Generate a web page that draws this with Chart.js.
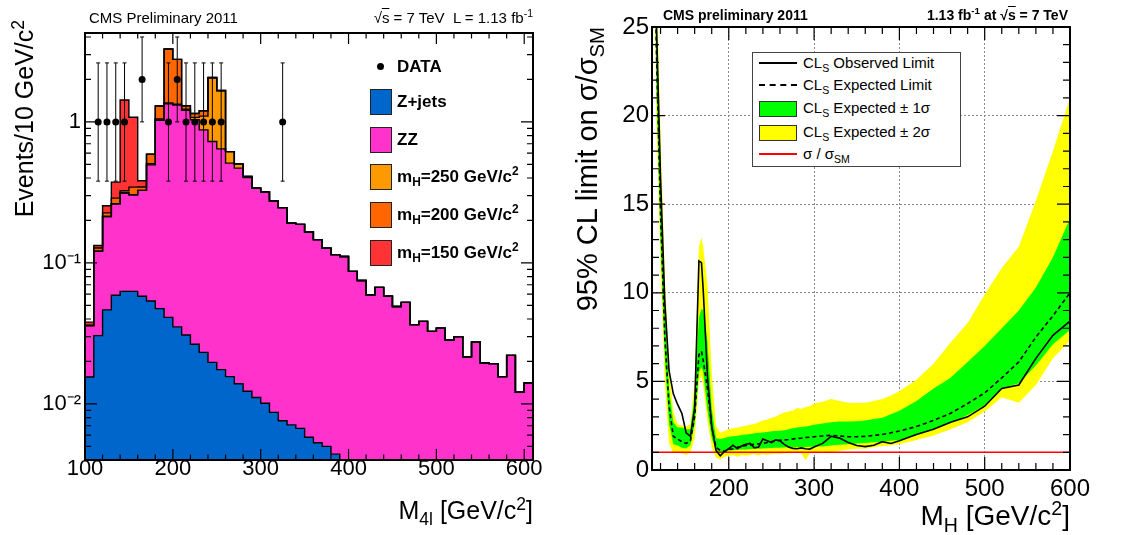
<!DOCTYPE html>
<html lang="en">
<head>
<meta charset="utf-8">
<title>CMS preliminary 2011 - H to ZZ to 4l</title>
<script src="https://cdn.jsdelivr.net/npm/chart.js@4.4.1/dist/chart.umd.min.js"></script>
<style>
    html, body { margin: 0; padding: 0; background: #ffffff; }
    body {
        position: relative;
        width: 1131px;
        height: 535px;
        overflow: hidden;
        font-family: 'Liberation Sans', Arial, Helvetica, sans-serif;
        color: #000000;
    }
    canvas { position: absolute; top: 0; }
    #mass-chart { left: 0; }
    #limit-chart { left: 570px; }
    .label { position: absolute; white-space: nowrap; }
    .label sub, .label sup { font-size: 70%; line-height: 0; }
    .overline { text-decoration: overline; }
    .y-title { transform-origin: 0 0; transform: rotate(-90deg); text-align: right; }
    .swatch { position: absolute; box-sizing: border-box; border: 1px solid #222; }
    .legend-left { left: 397px; font-size: 17px; font-weight: bold; line-height: 22px; }
    .legend-right { left: 50px; font-size: 15px; line-height: 18px; }
</style>
</head>
<body>
<canvas id="mass-chart" width="560" height="535"></canvas>
<canvas id="limit-chart" width="561" height="535"></canvas>

<!-- left panel: texts and legend -->
<div class="label" style="left:89px; top:8px; font-size:15px; line-height:19px;">CMS Preliminary 2011</div>
<div class="label" style="right:598px; top:8px; font-size:15px; line-height:19px;">&radic;<span class="overline">s</span> = 7 TeV&nbsp; L = 1.13 fb<sup>-1</sup></div>
<div class="label y-title" style="left:9px; top:420px; width:400px; font-size:25px; line-height:30px;">Events/10 GeV/c<sup>2</sup></div>
<div class="label" style="right:598px; top:495px; font-size:25px; line-height:30px;">M<sub>4l</sub> [GeV/c<sup>2</sup>]</div>

<div class="label" style="left:377px; top:63px; width:7px; height:7px; border-radius:50%; background:#000;"></div>
<div class="label legend-left" style="top:56px;">DATA</div>
<div class="swatch" style="left:370px; top:89px; width:22px; height:26px; background:#0066cc;"></div>
<div class="label legend-left" style="top:91px;">Z+jets</div>
<div class="swatch" style="left:370px; top:127px; width:22px; height:26px; background:#ff33cc;"></div>
<div class="label legend-left" style="top:129px;">ZZ</div>
<div class="swatch" style="left:370px; top:164px; width:22px; height:26px; background:#ff9900;"></div>
<div class="label legend-left" style="top:166px;">m<sub>H</sub>=250 GeV/c<sup>2</sup></div>
<div class="swatch" style="left:370px; top:202px; width:22px; height:26px; background:#ff6600;"></div>
<div class="label legend-left" style="top:204px;">m<sub>H</sub>=200 GeV/c<sup>2</sup></div>
<div class="swatch" style="left:370px; top:240px; width:22px; height:26px; background:#ff3333;"></div>
<div class="label legend-left" style="top:242px;">m<sub>H</sub>=150 GeV/c<sup>2</sup></div>

<!-- right panel: texts and legend -->
<div class="label" style="left:663px; top:6px; font-size:14px; font-weight:bold; line-height:18px;">CMS preliminary 2011</div>
<div class="label" style="right:63px; top:6px; font-size:14px; font-weight:bold; line-height:18px;">1.13 fb<sup>-1</sup> at &radic;<span class="overline">s</span> = 7 TeV</div>
<div class="label y-title" style="left:570px; top:467px; width:440px; font-size:29px; line-height:34px;">95% CL limit on &sigma;/&sigma;<sub>SM</sub></div>
<div class="label" style="right:61px; top:500px; font-size:28px; line-height:32px;">M<sub>H</sub> [GeV/c<sup>2</sup>]</div>

<div style="position:absolute; left:752px; top:52px; width:209px; height:115px; box-sizing:border-box; border:1px solid #444; background:#fff;">
    <div style="position:absolute; left:6px; top:9px; width:38px; border-top:2px solid #000;"></div>
    <div class="label legend-right" style="top:1px;">CL<sub>S</sub> Observed Limit</div>
    <div style="position:absolute; left:6px; top:31px; width:38px; border-top:2px dashed #000;"></div>
    <div class="label legend-right" style="top:23px;">CL<sub>S</sub> Expected Limit</div>
    <div class="swatch" style="left:6px; top:48px; width:38px; height:16px; background:#00ff00; border-color:#333;"></div>
    <div class="label legend-right" style="top:46px;">CL<sub>S</sub> Expected &plusmn; 1&sigma;</div>
    <div class="swatch" style="left:6px; top:72px; width:38px; height:16px; background:#ffff00; border-color:#333;"></div>
    <div class="label legend-right" style="top:70px;">CL<sub>S</sub> Expected &plusmn; 2&sigma;</div>
    <div style="position:absolute; left:6px; top:100px; width:38px; border-top:2px solid #ff0000;"></div>
    <div class="label legend-right" style="top:92px;">&sigma; / &sigma;<sub>SM</sub></div>
</div>

<script>
// ---------- left panel: M4l distribution, events per 10 GeV/c2 bin ----------
const binLowEdge = [
    100, 110, 120, 130, 140, 150, 160, 170, 180, 190,
    200, 210, 220, 230, 240, 250, 260, 270, 280, 290,
    300, 310, 320, 330, 340, 350, 360, 370, 380, 390,
    400, 410, 420, 430, 440, 450, 460, 470, 480, 490,
    500, 510, 520, 530, 540, 550, 560, 570, 580, 590,
    600
];
const binUpperEnd = 610;
const massTickValues = [100, 200, 300, 400, 500, 600];

const zJets = [
    0.0155, 0.0305, 0.0464, 0.0589, 0.0628, 0.0628, 0.058, 0.0537, 0.0474, 0.0411,
    0.0352, 0.0308, 0.0265, 0.0232, 0.0197, 0.0175, 0.0156, 0.0139, 0.0123, 0.0111,
    0.0101, 0.0087, 0.0076, 0.0071, 0.0067, 0.0058, 0.0053, 0.0050, 0.0044, 0,
    0, 0, 0, 0, 0, 0, 0, 0, 0, 0,
    0, 0, 0, 0, 0, 0, 0, 0, 0, 0,
    0
];
const zz = [
    0.0205, 0.0905, 0.167, 0.204, 0.250, 0.241, 0.269, 0.442, 0.98, 1.30,
    1.28, 1.18, 1.01, 0.855, 0.706, 0.626, 0.494, 0.456, 0.391, 0.328,
    0.308, 0.267, 0.239, 0.184, 0.181, 0.160, 0.141, 0.122, 0.110, 0.111,
    0.087, 0.075, 0.0595, 0.067, 0.058, 0.049, 0.0525, 0.0365, 0.0385, 0.0327,
    0.0344, 0.0283, 0.030, 0.0216, 0.0274, 0.0195, 0.0193, 0.0156, 0.0221, 0.0121,
    0.0141
];
const higgs250 = [
    0, 0, 0, 0, 0, 0, 0, 0.009, 0.02, 0.02,
    0.02, 0.02, 0.04, 0.22, 1.32, 1.02, 0.106, 0.034, 0.007, 0,
    0, 0, 0, 0, 0, 0, 0, 0, 0, 0,
    0, 0, 0, 0, 0, 0, 0, 0, 0, 0,
    0, 0, 0, 0, 0, 0, 0, 0, 0, 0,
    0
];
const higgs200 = [
    0, 0.0066, 0.013, 0.025, 0.012, 0.041, 0.018, 0.085, 0.25, 1.93,
    1.44, 0.07, 0.07, 0.10, 0.02, 0.006, 0, 0, 0, 0,
    0, 0, 0, 0, 0, 0, 0, 0, 0, 0,
    0, 0, 0, 0, 0, 0, 0, 0, 0, 0,
    0, 0, 0, 0, 0, 0, 0, 0, 0, 0,
    0
];
const higgs150 = [
    0.002, 0.0054, 0.028, 0.086, 1.105, 0.735, 0.037, 0, 0, 0,
    0, 0, 0, 0, 0, 0, 0, 0, 0, 0,
    0, 0, 0, 0, 0, 0, 0, 0, 0, 0,
    0, 0, 0, 0, 0, 0, 0, 0, 0, 0,
    0, 0, 0, 0, 0, 0, 0, 0, 0, 0,
    0
];

// observed events (bin centres) and their error bars
const dataMass = [115, 125, 135, 145, 165, 195, 205, 215, 225, 235, 245, 255, 325];
const dataEvents = [1, 1, 1, 1, 2, 1, 2, 1, 1, 1, 1, 1, 1];
const dataErrLow = [0.38, 0.38, 0.38, 0.38, 1.0, 0.38, 1.0, 0.38, 0.38, 0.38, 0.38, 0.38, 0.38];
const dataErrHigh = [2.62, 2.62, 2.62, 2.62, 4.0, 2.62, 4.0, 2.62, 2.62, 2.62, 2.62, 2.62, 2.62];

// ---------- right panel: 95% CL limit on sigma/sigma_SM ----------
const limitMass = [
    110, 115, 120, 125, 130, 135, 140, 145, 150, 155,
    160, 165, 168, 170, 175, 180, 185, 190, 195, 200,
    205, 210, 215, 220, 225, 230, 235, 240, 245, 250,
    255, 260, 265, 270, 275, 280, 285, 290, 295, 300,
    310, 320, 330, 340, 350, 360, 370, 380, 390, 400,
    420, 440, 460, 480, 500, 520, 540, 560, 580, 600
];
const limitTickValues = [200, 300, 400, 500, 600];
const observedLimit = [
    45, 25.5, 16.5, 9.5, 5.6, 4.3, 3.7, 3.2, 2.1, 1.9,
    3.5, 11.8, 11.7, 10.2, 5.3, 2.5, 1.1, 0.8, 1.05, 1.2,
    1.4, 1.2, 1.35, 1.45, 1.5, 1.25, 1.3, 1.75, 1.65, 1.55,
    1.7, 1.65, 1.45, 1.3, 1.22, 1.2, 1.25, 1.2, 1.18, 1.3,
    1.5, 1.9, 1.8, 1.55, 1.38, 1.32, 1.4, 1.6, 1.5, 1.65,
    2.0, 2.3, 2.7, 3.0, 3.6, 4.6, 4.8, 6.3, 7.6, 8.4
];
const expectedLimit = [
    45, 24, 14.5, 7.5, 3.6, 1.9, 1.75, 1.6, 1.5, 1.65,
    3.0, 6.5, 6.7, 6.2, 4.6, 2.4, 1.3, 1.1, 1.05, 1.15,
    1.2, 1.28, 1.33, 1.38, 1.42, 1.45, 1.48, 1.5, 1.55, 1.6,
    1.63, 1.68, 1.7, 1.72, 1.75, 1.78, 1.8, 1.83, 1.85, 1.88,
    1.92, 1.96, 1.92, 1.88, 1.88, 1.9, 1.95, 2.0, 2.1, 2.2,
    2.45, 2.8, 3.2, 3.75, 4.35, 5.2, 6.1, 7.5, 8.7, 10.0
];
const oneSigmaUp = [
    48, 27, 17, 9.2, 4.6, 2.7, 2.4, 2.4, 2.3, 2.3,
    4.3, 8.6, 9.1, 9.0, 7.3, 3.5, 1.8, 1.75, 1.8, 1.88,
    1.9, 1.93, 1.97, 2.0, 2.03, 2.07, 2.1, 2.12, 2.15, 2.18,
    2.2, 2.22, 2.25, 2.3, 2.35, 2.4, 2.42, 2.45, 2.5, 2.55,
    2.63, 2.7, 2.73, 2.73, 2.75, 2.8, 2.88, 2.95, 3.15, 3.35,
    3.9, 4.6, 5.2, 6.1, 7.0, 8.0, 9.0, 10.3, 12.0, 14.2
];
const oneSigmaDown = [
    42, 22, 13, 6.3, 2.6, 1.45, 1.38, 1.25, 1.22, 1.4,
    2.6, 5.5, 5.8, 5.5, 3.4, 1.8, 1.1, 0.95, 1.0, 1.1,
    1.12, 1.14, 1.15, 1.16, 1.17, 1.2, 1.2, 1.22, 1.23, 1.24,
    1.25, 1.26, 1.27, 1.28, 1.29, 1.3, 1.3, 1.3, 1.31, 1.32,
    1.33, 1.38, 1.42, 1.46, 1.5, 1.53, 1.57, 1.6, 1.65, 1.7,
    1.97, 2.3, 2.65, 3.1, 3.65, 4.6, 4.9, 5.9, 7.1, 7.9
];
const twoSigmaUp = [
    50, 28.5, 19, 10.8, 5.8, 3.3, 2.6, 2.5, 2.45, 2.6,
    5.0, 12.6, 13.1, 12.6, 10.5, 5.5, 2.5, 2.1, 2.2, 2.3,
    2.35, 2.4, 2.45, 2.5, 2.55, 2.6, 2.7, 2.8, 2.85, 2.95,
    3.0, 3.15, 3.25, 3.3, 3.35, 3.5, 3.45, 3.55, 3.6, 3.75,
    3.85, 4.0, 3.9, 3.8, 3.78, 3.8, 3.9, 4.0, 4.2, 4.45,
    5.1, 6.0, 7.2, 8.3, 9.9, 11.4, 12.6, 15.2, 18.0, 21.0
];
const twoSigmaDown = [
    40, 20, 11.5, 5.0, 1.5, 0.95, 1.0, 0.95, 0.85, 1.0,
    1.8, 5.0, 5.3, 4.8, 2.8, 1.3, 0.7, 0.6, 0.75, 0.8,
    0.85, 0.75, 0.85, 0.8, 0.85, 0.9, 0.82, 0.9, 0.85, 0.9,
    0.92, 0.9, 0.95, 0.95, 0.97, 0.98, 0.95, 0.55, 0.95, 1.0,
    1.05, 1.0, 1.08, 1.15, 1.2, 1.2, 1.28, 1.35, 1.4, 1.45,
    1.7, 1.95, 2.3, 2.7, 3.3, 4.1, 3.8, 4.8, 6.3, 7.3
];
const smMass = [110, 600];
const smRatio = [1, 1];

const FONT = "'Liberation Sans', Arial, Helvetica, sans-serif";
const GRID_GREY = '#8a8a8a';
const NONE = 'rgba(0,0,0,0)';
const yMinEvents = 0.004;
const yMaxEvents = 4.27;

// tick marks drawn inside the frame on all four sides (ROOT style)
const frameWithTicks = (xTicks, yTicks, frameWidth) => ({
    id: 'frameWithTicks',
    afterDraw(chart) {
        const { ctx, chartArea: area, scales } = chart;
        ctx.save();
        ctx.strokeStyle = '#000';
        ctx.lineWidth = 1.2;
        ctx.beginPath();
        xTicks.forEach(t => {
            const px = scales.x.getPixelForValue(t.value);
            ctx.moveTo(px, area.bottom);
            ctx.lineTo(px, area.bottom - t.length);
            ctx.moveTo(px, area.top);
            ctx.lineTo(px, area.top + t.length);
        });
        yTicks.forEach(t => {
            const py = scales.y.getPixelForValue(t.value);
            ctx.moveTo(area.left, py);
            ctx.lineTo(area.left + t.length, py);
            ctx.moveTo(area.right, py);
            ctx.lineTo(area.right - t.length, py);
        });
        ctx.stroke();
        ctx.lineWidth = frameWidth;
        ctx.strokeRect(area.left, area.top, area.right - area.left, area.bottom - area.top);
        ctx.restore();
    }
});

const linearTicks = (from, to, step, majorEvery, majorLength, minorLength) => {
    const list = [];
    for (let v = from; v <= to + 1e-9; v += step) {
        const q = v / majorEvery;
        list.push({ value: v, length: Math.abs(q - Math.round(q)) < 1e-9 ? majorLength : minorLength });
    }
    return list;
};

const logTicks = [];
for (let e = -3; e <= 0; e++) {
    for (let k = 1; k <= 9; k++) {
        const v = k * Math.pow(10, e);
        if (v >= yMinEvents && v <= yMaxEvents) {
            logTicks.push({ value: v, length: k === 1 ? 12 : 6 });
        }
    }
}

// log axis labels: 1, 10^-1, 10^-2
const decadeLabel = (value) => {
    const exponent = Math.log10(value);
    if (Math.abs(exponent - Math.round(exponent)) > 1e-6) return '';
    const e = Math.round(exponent);
    if (e === 0) return '1';
    const sup = { '-': '\u207B', '0': '\u2070', '1': '\u00B9', '2': '\u00B2', '3': '\u00B3' };
    return '10' + String(e).split('').map(c => sup[c]).join('');
};

// histogram layers drawn as stepped lines through the bin low edges
const stepPoints = (values) => {
    const pts = binLowEdge.map((x, i) => ({ x, y: values[i] }));
    pts.push({ x: binUpperEnd, y: values[values.length - 1] });
    return pts;
};
const addLayer = (below, layer) => below.map((v, i) => v + layer[i]);

const stackZJets = zJets;
const stackZZ = addLayer(stackZJets, zz);
const stack250 = addLayer(stackZZ, higgs250);
const stack200 = addLayer(stack250, higgs200);
const stack150 = addLayer(stack200, higgs150);

const errorBarPoints = [];
dataMass.forEach((x, i) => {
    errorBarPoints.push({ x, y: dataErrLow[i] }, { x, y: dataErrHigh[i] }, { x, y: null });
});

const histLayer = (label, values, color) => ({
    label,
    data: stepPoints(values),
    stepped: true,
    backgroundColor: color,
    borderColor: '#000',
    borderWidth: 1.4,
    pointRadius: 0,
    fill: '+1'
});

const massChart = new Chart(document.getElementById('mass-chart'), {
    type: 'line',
    data: {
        datasets: [
            {
                label: 'DATA',
                data: dataMass.map((x, i) => ({ x, y: dataEvents[i] })),
                showLine: false,
                pointRadius: 3.5,
                pointBackgroundColor: '#000',
                pointBorderColor: '#000',
                pointBorderWidth: 0
            },
            {
                label: 'DATA errors',
                data: errorBarPoints,
                borderColor: '#000',
                borderWidth: 1,
                spanGaps: false,
                pointStyle: 'line',
                pointRadius: 2,
                pointBorderColor: '#000',
                pointBorderWidth: 1,
                fill: false
            },
            histLayer('mH=150 GeV/c2', stack150, '#ff3333'),
            histLayer('mH=200 GeV/c2', stack200, '#ff6600'),
            histLayer('mH=250 GeV/c2', stack250, '#ff9900'),
            histLayer('ZZ', stackZZ, '#ff33cc'),
            Object.assign(histLayer('Z+jets', stackZJets.map(v => (v > 0 ? v : yMinEvents)), '#0066cc'), { fill: 'start' })
        ]
    },
    options: {
        responsive: false,
        animation: false,
        devicePixelRatio: 1,
        events: [],
        layout: { padding: { left: 0, top: 33, right: 27, bottom: 0 } },
        plugins: {
            legend: { display: false },
            tooltip: { enabled: false },
            filler: { drawTime: 'beforeDatasetsDraw' }
        },
        elements: { line: { tension: 0 } },
        scales: {
            x: {
                type: 'linear',
                min: 100,
                max: binUpperEnd,
                grid: { display: false, drawTicks: false },
                border: { display: false },
                afterBuildTicks: (scale) => { scale.ticks = massTickValues.map(value => ({ value })); },
                ticks: {
                    autoSkip: false,
                    maxRotation: 0,
                    padding: -4,
                    color: '#000',
                    font: { family: FONT, size: 22 },
                    callback: (v) => String(v)
                },
                afterFit: (scale) => { scale.height = 75; }
            },
            y: {
                type: 'logarithmic',
                min: yMinEvents,
                max: yMaxEvents,
                grid: { display: false, drawTicks: false },
                border: { display: false },
                ticks: {
                    autoSkip: false,
                    padding: 4,
                    color: '#000',
                    font: { family: FONT, size: 22 },
                    callback: (v) => decadeLabel(v)
                },
                afterFit: (scale) => { scale.width = 85; }
            }
        }
    },
    plugins: [frameWithTicks(linearTicks(100, 600, 20, 100, 11, 5.5), logTicks, 2)]
});

// ---------- right chart ----------
const limitPoints = (values) => limitMass.map((x, i) => ({ x, y: values[i] }));
const bandEdge = (label, values, color, fill) => ({
    label,
    data: limitPoints(values),
    backgroundColor: color,
    borderColor: NONE,
    borderWidth: 0,
    pointRadius: 0,
    fill
});

const limitChart = new Chart(document.getElementById('limit-chart'), {
    type: 'line',
    data: {
        datasets: [
            {
                label: 'CLs Observed Limit',
                data: limitPoints(observedLimit),
                borderColor: '#000',
                borderWidth: 1.6,
                pointRadius: 0,
                fill: false
            },
            {
                label: 'CLs Expected Limit',
                data: limitPoints(expectedLimit),
                borderColor: '#000',
                borderWidth: 1.6,
                borderDash: [4, 3],
                pointRadius: 0,
                fill: false
            },
            {
                label: 'sigma / sigma_SM',
                data: smMass.map((x, i) => ({ x, y: smRatio[i] })),
                borderColor: '#ff0000',
                borderWidth: 1.5,
                pointRadius: 0,
                fill: false
            },
            bandEdge('CLs Expected +1 sigma', oneSigmaUp, '#00ff00', '+1'),
            bandEdge('CLs Expected -1 sigma', oneSigmaDown, NONE, false),
            bandEdge('CLs Expected +2 sigma', twoSigmaUp, '#ffff00', '+1'),
            bandEdge('CLs Expected -2 sigma', twoSigmaDown, NONE, false)
        ]
    },
    options: {
        responsive: false,
        animation: false,
        devicePixelRatio: 1,
        events: [],
        layout: { padding: { left: 0, top: 27, right: 61, bottom: 0 } },
        plugins: {
            legend: { display: false },
            tooltip: { enabled: false },
            filler: { drawTime: 'beforeDatasetsDraw' }
        },
        elements: { line: { tension: 0 } },
        scales: {
            x: {
                type: 'linear',
                min: 110,
                max: 600,
                grid: {
                    drawTicks: false,
                    lineWidth: 1,
                    color: (c) => {
                        const v = c.tick ? c.tick.value : NaN;
                        return v < 600 ? GRID_GREY : NONE;
                    }
                },
                border: { display: false, dash: [2, 2] },
                afterBuildTicks: (scale) => { scale.ticks = limitTickValues.map(value => ({ value })); },
                ticks: {
                    autoSkip: false,
                    maxRotation: 0,
                    padding: 5,
                    color: '#000',
                    font: { family: FONT, size: 24 },
                    callback: (v) => String(v)
                },
                afterFit: (scale) => { scale.height = 65; }
            },
            y: {
                type: 'linear',
                min: 0,
                max: 25,
                grid: {
                    drawTicks: false,
                    lineWidth: 1,
                    color: (c) => {
                        const v = c.tick ? c.tick.value : NaN;
                        return v % 5 === 0 && v > 0 && v < 25 ? GRID_GREY : NONE;
                    }
                },
                border: { display: false, dash: [2, 2] },
                ticks: {
                    stepSize: 5,
                    autoSkip: false,
                    padding: 3,
                    color: '#000',
                    font: { family: FONT, size: 24 }
                },
                afterFit: (scale) => { scale.width = 82; }
            }
        }
    },
    plugins: [frameWithTicks(linearTicks(120, 600, 20, 100, 13, 7), linearTicks(0, 25, 1, 5, 13, 7), 2)]
});
</script>
</body>
</html>
